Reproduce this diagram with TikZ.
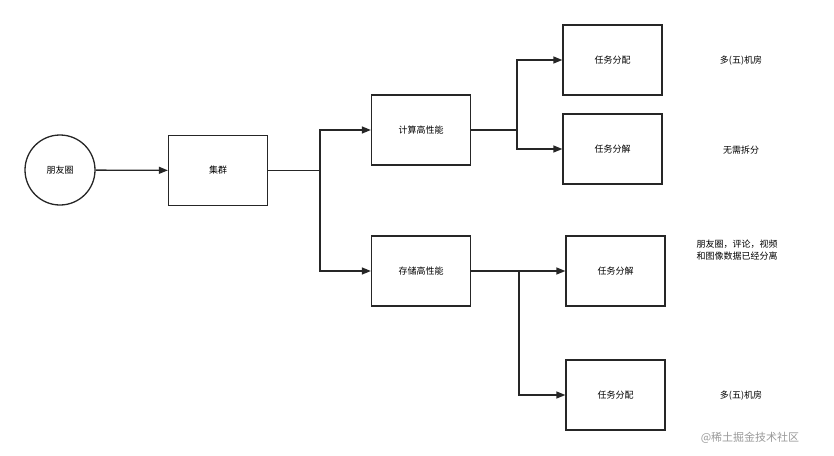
\documentclass[tikz,border=0pt]{standalone}
\usepackage{fontspec}
\setmainfont{Noto Sans CJK SC}
\usetikzlibrary{arrows.meta}
\begin{document}
\begin{tikzpicture}[x=1pt,y=-1pt,
  box/.style={draw=black!85,line width=1.3pt,minimum width=99pt,minimum height=70pt,inner sep=0pt,font=\fontsize{9}{11}\selectfont},
  lbl/.style={font=\fontsize{9}{12}\selectfont,align=center},
  conn/.style={draw=black!85,line width=1.3pt,-{Triangle[length=9pt,width=7pt]}},
  ln/.style={draw=black!85,line width=1.3pt}]
\useasboundingbox (0,0) rectangle (834,455);
\node[circle,draw=black!85,line width=1.3pt,minimum size=70pt,inner sep=0pt,font=\fontsize{9}{11}\selectfont] (py) at (60,170) {朋友圈};
\node[box] (jq) at (218,170.5) {集群};
\node[box] (js) at (421,130) {计算高性能};
\node[box] (cc) at (421,271) {存储高性能};
\node[box] (a1) at (612.5,60) {任务分配};
\node[box] (a2) at (612.5,149) {任务分解};
\node[box] (b1) at (615.5,271) {任务分解};
\node[box] (b2) at (615.5,395) {任务分配};
\node[lbl] (l1) at (741,61) {多(五)机房};
\node[lbl] (l2) at (741,150) {无需拆分};
\node[lbl] (l3) at (737,250) {朋友圈，评论，视频\\和图像数据已经分离};
\node[lbl] (l4) at (741,396) {多(五)机房};
\node[font=\fontsize{11}{13}\selectfont,text=black!40] (wm) at (750,438) {@稀土掘金技术社区};
\coordinate (s1) at (320,170.5);
\coordinate (s2) at (517,130);
\coordinate (s3) at (519,271);
\draw[conn] (py) -- (jq);
\draw[ln] (jq.east) -- (s1);
\draw[conn] (s1) |- (js.west);
\draw[conn] (s1) |- (cc.west);
\draw[ln] (js.east) -- (s2);
\draw[conn] (s2) |- (a1.west);
\draw[conn] (s2) |- (a2.west);
\draw[conn] (cc.east) -- (b1.west);
\draw[conn] (s3) |- (b2.west);
\end{tikzpicture}
\end{document}
